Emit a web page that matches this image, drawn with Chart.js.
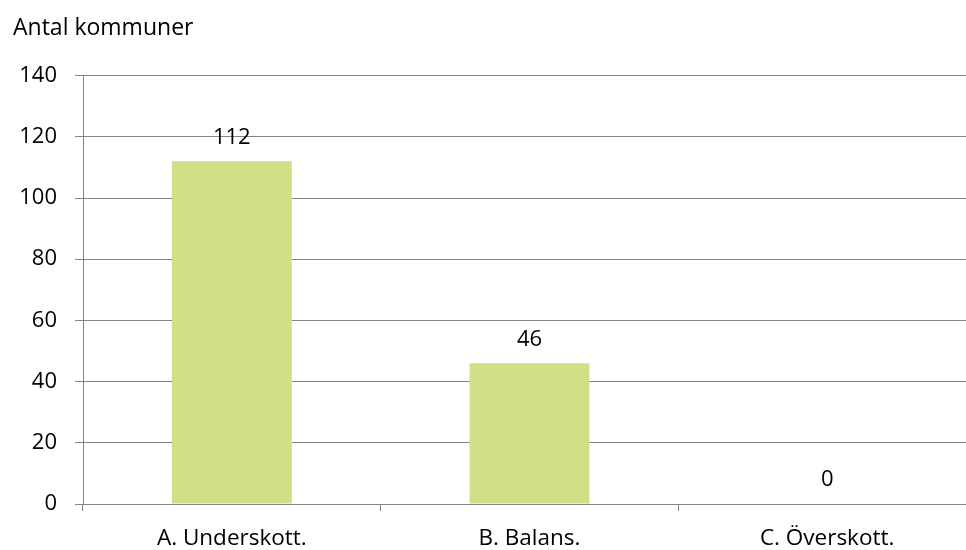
<!DOCTYPE html>
<html lang="sv">
<head>
  <meta charset="UTF-8">
  <title>Antal kommuner</title>
  <script src="https://cdn.jsdelivr.net/npm/chart.js"></script>
  <style>
    html, body {
      margin: 0;
      padding: 0;
      background: #fff;
      overflow: hidden;
    }
    .chart-container {
      position: relative;
      width: 976px;
      height: 550px;
    }
  </style>
</head>
<body>
  <div class="chart-container">
    <canvas id="resultChart"></canvas>
  </div>

  <script>
    const categories = ['A. Underskott.', 'B. Balans.', 'C. Överskott.'];
    const counts = [112, 46, 0];
    const yTicks = [0, 20, 40, 60, 80, 100, 120, 140];

    const fontFamily = '"Open Sans", Arial, sans-serif';
    const gridColor = '#848484';

    // value labels above each bar
    const barLabels = {
      id: 'barLabels',
      afterDatasetsDraw(chart) {
        const ctx = chart.ctx;
        const meta = chart.getDatasetMeta(0);
        ctx.save();
        ctx.font = '22px ' + fontFamily;
        ctx.fillStyle = '#000';
        ctx.textAlign = 'center';
        ctx.textBaseline = 'middle';
        meta.data.forEach((bar, i) => {
          ctx.fillText(String(counts[i]), bar.x, bar.y - 24);
        });
        ctx.restore();
      }
    };

    const ctx = document.getElementById('resultChart').getContext('2d');
    new Chart(ctx, {
      type: 'bar',
      data: {
        labels: categories,
        datasets: [{
          label: 'Antal kommuner',
          data: counts,
          backgroundColor: '#d3df86',
          borderWidth: 0,
          barPercentage: 0.403,
          categoryPercentage: 1
        }]
      },
      options: {
        responsive: true,
        maintainAspectRatio: false,
        animation: false,
        layout: {
          padding: { left: 13, right: 0, top: 0, bottom: 0 }
        },
        scales: {
          x: {
            grid: {
              display: true,
              drawOnChartArea: false,
              tickLength: 7,
              color: gridColor
            },
            border: { display: true, color: gridColor },
            ticks: {
              color: '#000',
              padding: 14,
              font: { family: fontFamily, size: 22.5 }
            },
            afterFit(scale) { scale.height = 46; }
          },
          y: {
            min: 0,
            max: 140,
            afterBuildTicks(scale) {
              scale.ticks = yTicks.map(v => ({ value: v }));
            },
            grid: {
              color: gridColor,
              tickLength: 8
            },
            border: { display: true, color: gridColor },
            ticks: {
              color: '#000',
              padding: 18,
              font: { family: fontFamily, size: 22 }
            },
            afterFit(scale) { scale.width = 70; }
          }
        },
        plugins: {
          legend: { display: false },
          tooltip: { enabled: false },
          title: {
            display: true,
            text: 'Antal kommuner',
            align: 'start',
            color: '#000',
            font: { family: fontFamily, size: 23, weight: 'normal' },
            padding: { top: 15, bottom: 33 }
          }
        }
      },
      plugins: [barLabels]
    });
  </script>
</body>
</html>
